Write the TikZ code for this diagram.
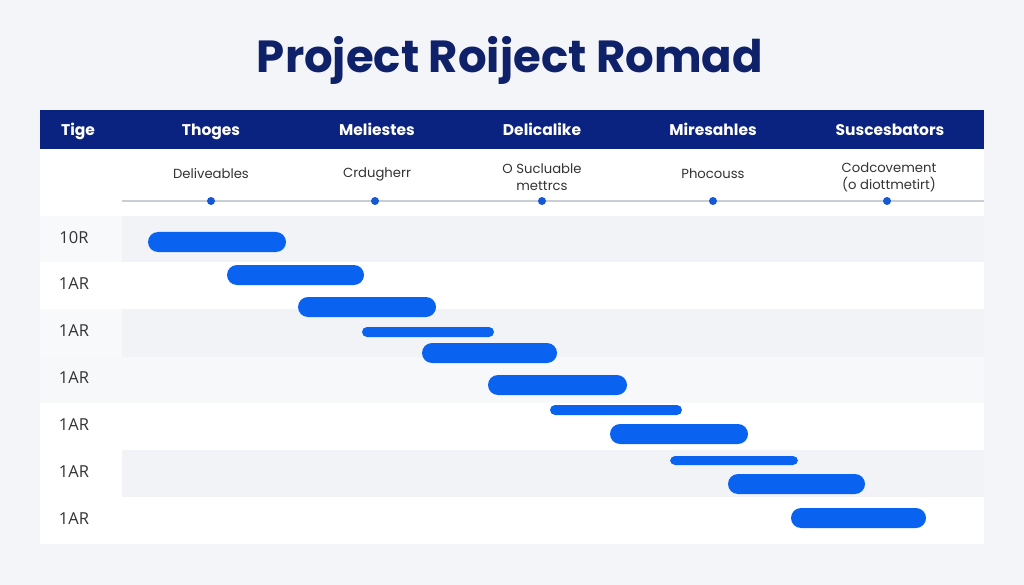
\documentclass[tikz,border=0pt]{standalone}
\usepackage{fontspec}
\setmainfont{Open Sans}
\newfontfamily\titlefont{Poppins}
\definecolor{bgc}{HTML}{F3F5F8}
\definecolor{navy}{HTML}{0B2380}
\definecolor{titlec}{HTML}{0F2168}
\definecolor{barc}{HTML}{0A63F0}
\definecolor{dotc}{HTML}{1558D6}
\definecolor{bandg}{HTML}{F1F3F6}
\definecolor{bandl}{HTML}{F8F9FA}
\definecolor{bandv}{HTML}{F7F8FA}
\definecolor{txt}{HTML}{333333}
\definecolor{linec}{HTML}{C9CDD4}
\tikzset{
  hdr/.style={text=white,font=\titlefont\bfseries\fontsize{15.5}{18}\selectfont,anchor=base},
  ms/.style={text=txt,font=\titlefont\fontsize{13.2}{17}\selectfont,align=center,anchor=center},
  rowlab/.style={text=txt,font=\fontsize{16.5}{18}\selectfont,anchor=center},
  bar/.style={fill=barc,rounded corners=10pt},
  thinbar/.style={fill=barc,rounded corners=5pt},
  mdot/.style={circle,fill=dotc,inner sep=0pt,minimum size=8pt}
}
\begin{document}
\begin{tikzpicture}[x=1pt,y=-1pt]
\useasboundingbox (0,0) rectangle (1024,585);
\fill[bgc] (0,0) rectangle (1024,585);
% title
\node[text=titlec,font=\titlefont\bfseries\fontsize{45}{50}\selectfont] (title) at (510,60) {Project Roiject Romad};
% table background
\fill[white] (40,149) rectangle (984,544);
% header bar
\fill[navy] (40,110) rectangle (984,149);
\node[hdr] (h1) at (78,136) {Tige};
\node[hdr] (h2) at (211,136) {Thoges};
\node[hdr] (h3) at (377,136) {Meliestes};
\node[hdr] (h4) at (542,136) {Delicalike};
\node[hdr] (h5) at (713,136) {Miresahles};
\node[hdr] (h6) at (890,136) {Suscesbators};
% milestone line
\coordinate (ls) at (122,201);
\coordinate (le) at (984,201);
\draw[linec,line width=1.8pt] (ls) -- (le);
\node[mdot] (d1) at (211,201) {};
\node[mdot] (d2) at (375,201) {};
\node[mdot] (d3) at (542,201) {};
\node[mdot] (d4) at (713,201) {};
\node[mdot] (d5) at (887,201) {};
\node[ms] (m1) at (211,174) {Deliveables};
\node[ms] (m2) at (377,174) {Crdugherr};
\node[ms] (m3) at (542,177) {O Sucluable\\mettrcs};
\node[ms] (m4) at (713,174) {Phocouss};
\node[ms] (m5) at (889,177) {Codcovement\\(o diottmetirt)};
% row bands
\fill[bandl] (40,216) rectangle (122,262);
\fill[bandg] (122,216) rectangle (984,262);
\fill[bandl] (40,309) rectangle (122,357);
\fill[bandg] (122,309) rectangle (984,357);
\fill[bandv] (40,357) rectangle (984,403);
\fill[bandg] (122,450) rectangle (984,497);
% row labels
\node[rowlab] (r1) at (74,238) {10R};
\node[rowlab] (r2) at (74,284) {1AR};
\node[rowlab] (r3) at (74,331) {1AR};
\node[rowlab] (r4) at (74,378) {1AR};
\node[rowlab] (r5) at (74,425) {1AR};
\node[rowlab] (r6) at (74,472) {1AR};
\node[rowlab] (r7) at (74,519) {1AR};
% bars
\fill[bar] (148,232) rectangle (286,252);
\fill[bar] (227,265) rectangle (364,285);
\fill[bar] (298,297) rectangle (436,317);
\fill[thinbar] (362,327) rectangle (494,337);
\fill[bar] (422,343) rectangle (557,363);
\fill[bar] (488,375) rectangle (627,395);
\fill[thinbar] (550,405) rectangle (682,415);
\fill[bar] (610,424) rectangle (748,444);
\fill[thinbar] (670,456) rectangle (798,465);
\fill[bar] (728,474) rectangle (865,494);
\fill[bar] (791,508) rectangle (926,528);
\end{tikzpicture}
\end{document}
